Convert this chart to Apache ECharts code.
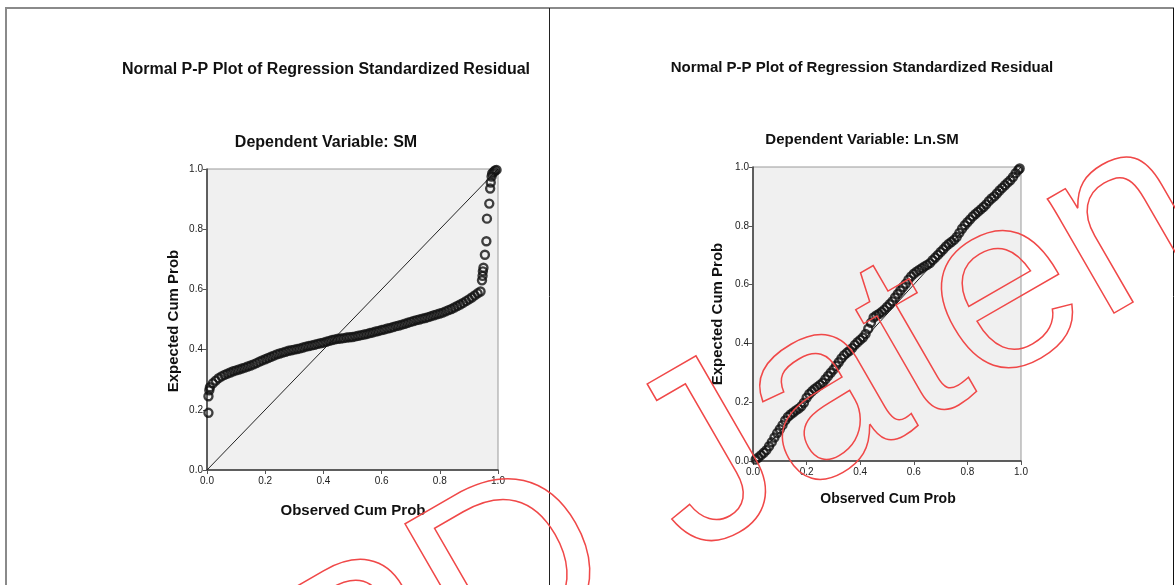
<!DOCTYPE html>
<html>
<head>
<meta charset="utf-8">
<script src="https://cdn.jsdelivr.net/npm/echarts@6/dist/echarts.min.js"></script>
<style>
html,body{margin:0;padding:0;background:#fff;}
#chart{width:1175px;height:585px;}
</style>
</head>
<body>
<div id="chart"></div>
<script>
// ---- Data ----
const chartTitle = "Normal P-P Plot of Regression Standardized Residual";
const subtitleLeft = "Dependent Variable: SM";
const subtitleRight = "Dependent Variable: Ln.SM";
const xAxisName = "Observed Cum Prob";
const yAxisName = "Expected Cum Prob";
const watermarkText = "BPD Jateng";

// Left panel (SM): [observed cum prob, expected cum prob]
const smPoints = [
  [0.005,0.19],[0.005,0.245],[0.008,0.265],
  [0.01,0.275],[0.02,0.288],[0.03,0.297],[0.04,0.305],[0.05,0.311],[0.06,0.316],[0.07,0.320],[0.08,0.324],[0.09,0.328],[0.10,0.331],
  [0.11,0.334],[0.12,0.337],[0.13,0.340],[0.14,0.344],[0.15,0.347],[0.16,0.351],[0.17,0.355],[0.18,0.360],[0.19,0.364],[0.20,0.368],
  [0.21,0.372],[0.22,0.376],[0.23,0.380],[0.24,0.384],[0.25,0.387],[0.26,0.390],[0.27,0.393],[0.28,0.396],[0.29,0.398],[0.30,0.400],
  [0.31,0.402],[0.32,0.404],[0.33,0.407],[0.34,0.410],[0.35,0.412],[0.36,0.414],[0.37,0.416],[0.38,0.419],[0.39,0.421],[0.40,0.423],
  [0.41,0.426],[0.42,0.429],[0.43,0.432],[0.44,0.434],[0.45,0.436],[0.46,0.437],[0.47,0.438],[0.48,0.440],[0.49,0.441],[0.50,0.442],
  [0.51,0.444],[0.52,0.446],[0.53,0.448],[0.54,0.450],[0.55,0.452],[0.56,0.455],[0.57,0.457],[0.58,0.460],[0.59,0.462],[0.60,0.465],
  [0.61,0.467],[0.62,0.470],[0.63,0.472],[0.64,0.475],[0.65,0.478],[0.66,0.480],[0.67,0.483],[0.68,0.486],[0.69,0.489],[0.70,0.492],
  [0.71,0.495],[0.72,0.498],[0.73,0.500],[0.74,0.503],[0.75,0.505],[0.76,0.508],[0.77,0.511],[0.78,0.514],[0.79,0.517],[0.80,0.520],
  [0.81,0.523],[0.82,0.527],[0.83,0.531],[0.84,0.535],[0.85,0.540],[0.86,0.545],[0.87,0.550],[0.88,0.555],[0.89,0.561],[0.90,0.567],
  [0.91,0.573],[0.92,0.580],[0.93,0.587],[0.94,0.593],
  [0.945,0.63],[0.947,0.645],[0.948,0.66],[0.950,0.672],[0.955,0.715],[0.96,0.76],[0.962,0.835],[0.97,0.885],
  [0.973,0.935],[0.975,0.955],[0.978,0.975],[0.98,0.985],[0.985,0.99],[0.99,0.995],[0.995,0.997]
];

// Right panel (Ln.SM): [observed cum prob, expected cum prob]
const lnSmPoints = [
  [0.01,0.005],[0.02,0.012],[0.03,0.020],[0.04,0.028],[0.05,0.037],[0.06,0.050],[0.07,0.064],[0.08,0.080],[0.09,0.095],[0.10,0.108],
  [0.11,0.122],[0.12,0.138],[0.13,0.150],[0.14,0.158],[0.15,0.165],[0.16,0.172],[0.17,0.178],[0.18,0.186],[0.19,0.198],[0.20,0.215],
  [0.21,0.228],[0.22,0.237],[0.23,0.245],[0.24,0.252],[0.25,0.259],[0.26,0.266],[0.27,0.278],[0.28,0.289],[0.29,0.300],[0.30,0.311],
  [0.31,0.324],[0.32,0.336],[0.33,0.349],[0.34,0.360],[0.35,0.368],[0.36,0.375],[0.37,0.384],[0.38,0.395],[0.39,0.404],[0.40,0.412],
  [0.41,0.420],[0.42,0.432],[0.43,0.450],[0.44,0.470],[0.45,0.488],[0.46,0.495],[0.47,0.500],[0.48,0.507],[0.49,0.515],[0.50,0.524],
  [0.51,0.533],[0.52,0.543],[0.53,0.556],[0.54,0.568],[0.55,0.580],[0.56,0.592],[0.57,0.603],[0.58,0.617],[0.59,0.628],[0.60,0.637],
  [0.61,0.644],[0.62,0.650],[0.63,0.656],[0.64,0.662],[0.65,0.667],[0.66,0.673],[0.67,0.683],[0.68,0.692],[0.69,0.701],[0.70,0.711],
  [0.71,0.720],[0.72,0.730],[0.73,0.738],[0.74,0.745],[0.75,0.752],[0.76,0.762],[0.77,0.776],[0.78,0.790],[0.79,0.802],[0.80,0.812],
  [0.81,0.822],[0.82,0.832],[0.83,0.840],[0.84,0.848],[0.85,0.856],[0.86,0.864],[0.87,0.873],[0.88,0.884],[0.89,0.893],[0.90,0.900],
  [0.91,0.910],[0.92,0.920],[0.93,0.929],[0.94,0.938],[0.95,0.947],[0.96,0.955],[0.97,0.966],[0.98,0.979],[0.99,0.990],[0.995,0.995]
];

// Reference (diagonal) line
const refLine = [[0,0],[1,1]];

// ---- Chart ----
const chart = echarts.init(document.getElementById('chart'), null, {renderer:'canvas'});
const FONT = '"Liberation Sans", Arial, sans-serif';

function axisX(gridIndex){
  return {
    type:'value', gridIndex, min:0, max:1, interval:0.2,
    axisLine:{show:true, onZero:false, lineStyle:{color:'#3a3a3a', width:1.5}},
    axisTick:{show:true, inside:false, length:4, lineStyle:{color:'#555', width:1}},
    axisLabel:{show:true, fontSize:10, color:'#222', fontFamily:FONT, margin:6,
      formatter:v=>v.toFixed(1)},
    splitLine:{show:false}
  };
}
function axisY(gridIndex){
  return {
    type:'value', gridIndex, min:0, max:1, interval:0.2,
    axisLine:{show:true, onZero:false, lineStyle:{color:'#3a3a3a', width:1.5}},
    axisTick:{show:true, inside:false, length:4, lineStyle:{color:'#555', width:1}},
    axisLabel:{show:true, fontSize:10, color:'#222', fontFamily:FONT, margin:4,
      formatter:v=>v.toFixed(1)},
    splitLine:{show:false}
  };
}
const markerStyle = {color:'rgba(0,0,0,0)', borderColor:'#111', borderWidth:2.4};

function txt(x, y, text, size, weight, rot){
  return {
    type:'text', x, y, rotation: rot || 0, silent:true,
    style:{text, x:0, y:0, align:'center', verticalAlign:'middle',
      font: weight + ' ' + size + 'px ' + FONT, fill:'#111'}
  };
}
function ln(x1,y1,x2,y2,color,w){
  return {type:'line', silent:true, shape:{x1,y1,x2,y2}, style:{stroke:color, lineWidth:w}};
}

const option = {
  animation:false,
  backgroundColor:'#ffffff',
  grid:[
    {left:207, top:169, width:291, height:301, show:true, backgroundColor:'#f0f0f0', borderColor:'#9a9a9a', borderWidth:1},
    {left:753, top:167, width:268, height:294, show:true, backgroundColor:'#f0f0f0', borderColor:'#9a9a9a', borderWidth:1}
  ],
  xAxis:[axisX(0), axisX(1)],
  yAxis:[axisY(0), axisY(1)],
  series:[
    {type:'line', xAxisIndex:0, yAxisIndex:0, data:refLine, symbol:'none', lineStyle:{color:'#222', width:1}, z:2},
    {type:'scatter', xAxisIndex:0, yAxisIndex:0, data:smPoints, symbol:'circle', symbolSize:8, itemStyle:markerStyle, z:3},
    {type:'line', xAxisIndex:1, yAxisIndex:1, data:refLine, symbol:'none', lineStyle:{color:'#222', width:1}, z:2},
    {type:'scatter', xAxisIndex:1, yAxisIndex:1, data:lnSmPoints, symbol:'circle', symbolSize:8, itemStyle:markerStyle, z:3}
  ],
  graphic:[
    // outer frame
    ln(5, 8, 1174, 8, '#8a8a8a', 2),
    ln(6, 8, 6, 585, '#8a8a8a', 2),
    ln(549.5, 8, 549.5, 585, '#222', 1),
    ln(1173.5, 8, 1173.5, 585, '#111', 1),
    // titles
    txt(326, 70, chartTitle, 16, 'bold'),
    txt(862, 68, chartTitle, 15, 'bold'),
    txt(326, 143, subtitleLeft, 16, 'bold'),
    txt(862, 140, subtitleRight, 15, 'bold'),
    // axis names
    txt(353, 511, xAxisName, 15, 'bold'),
    txt(888, 499, xAxisName, 14, 'bold'),
    txt(174, 321, yAxisName, 15, 'bold', Math.PI/2),
    txt(718, 314, yAxisName, 15, 'bold', Math.PI/2),
    // watermark (outlined red text)
    {
      type:'text', x:150, y:790, rotation: Math.PI/6, silent:true, z:100,
      style:{text:watermarkText, x:0, y:0, align:'left', verticalAlign:'middle',
        font:'normal 250px ' + FONT, fill:'none', stroke:'#f04848', lineWidth:1.5}
    }
  ]
};
chart.setOption(option);
</script>
</body>
</html>
